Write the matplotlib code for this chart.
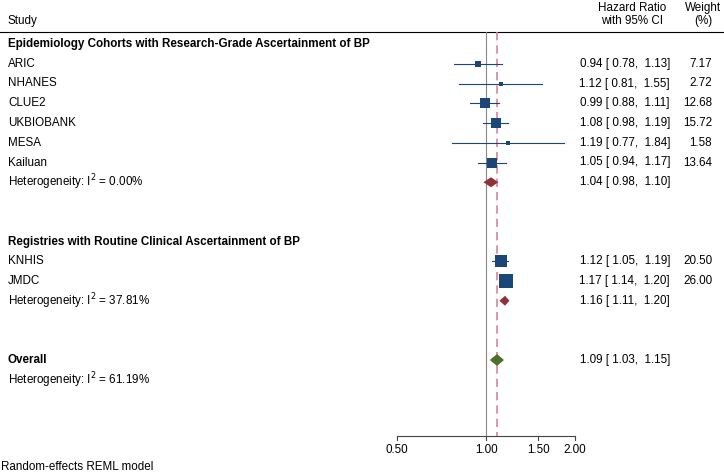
import numpy as np
import matplotlib.pyplot as plt
from matplotlib.patches import Polygon

plt.rcParams['font.family'] = ['Liberation Sans', 'DejaVu Sans']

# study level data
studies = ['ARIC', 'NHANES', 'CLUE2', 'UKBIOBANK', 'MESA', 'Kailuan', 'KNHIS', 'JMDC']
hr = [0.94, 1.12, 0.99, 1.08, 1.19, 1.05, 1.12, 1.17]
lo = [0.78, 0.81, 0.88, 0.98, 0.77, 0.94, 1.05, 1.14]
hi = [1.13, 1.55, 1.11, 1.19, 1.84, 1.17, 1.19, 1.20]
weight = [7.17, 2.72, 12.68, 15.72, 1.58, 13.64, 20.50, 26.00]
study_row = [1, 2, 3, 4, 5, 6, 11, 12]

# pooled estimates
groups = ['Epidemiology Cohorts with Research-Grade Ascertainment of BP',
          'Registries with Routine Clinical Ascertainment of BP']
group_row = [0, 10]
pool_hr = [1.04, 1.16, 1.09]
pool_lo = [0.98, 1.11, 1.03]
pool_hi = [1.10, 1.20, 1.15]
pool_row = [7, 13, 16]
i2 = [0.00, 37.81, 61.19]
i2_row = [7, 13, 17]

ticks = [0.5, 1.0, 1.5, 2.0]

W, H = 724, 475
fig = plt.figure(figsize=(W / 100, H / 100), dpi=100)
ax = fig.add_axes([0, 0, 1, 1])
ax.set_xscale('log')
# 0.50 sits at x=397 px and 2.00 at x=575 px
k = np.log(2 / 0.5) / (575 - 397)
ax.set_xlim(np.exp(np.log(0.5) - 397 * k), np.exp(np.log(2) + (W - 575) * k))
ax.set_ylim(H, 0)


def ry(r):
    return 44 + r * 19.75


def px(xp):
    return xp / W


def fy(yp):
    return 1 - yp / H


fs = 8.4
blue = '#1b4676'
red = '#8e3138'
green = '#4f6f2a'
axis_bottom = 436

# header
fig.text(px(8), fy(21), 'Study', fontsize=fs, va='center')
fig.text(px(632), fy(8), 'Hazard Ratio', fontsize=fs, va='center', ha='center')
fig.text(px(632), fy(21), 'with 95% CI', fontsize=fs, va='center', ha='center')
fig.text(px(703), fy(8), 'Weight', fontsize=fs, va='center', ha='center')
fig.text(px(703), fy(21), '(%)', fontsize=fs, va='center', ha='center')
ax.plot([0, 1], [fy(32)] * 2, transform=ax.transAxes, color='black', lw=0.8)

# reference lines
ax.plot([1, 1], [32, axis_bottom], color='#888888', lw=0.8)
ax.plot([pool_hr[2]] * 2, [32, axis_bottom], color='#d9849a', lw=1.2, ls=(0, (5, 3)))

for g, r in zip(groups, group_row):
    fig.text(px(8), fy(ry(r)), g, fontsize=fs, va='center', fontweight='bold')

for i in range(len(studies)):
    y = ry(study_row[i])
    fig.text(px(8), fy(y), studies[i], fontsize=fs, va='center')
    ax.plot([lo[i], hi[i]], [y, y], color=blue, lw=0.8, zorder=2)
    ax.scatter(hr[i], y, marker='s', s=3.4 * weight[i], color=blue, zorder=3, lw=0)
    fig.text(px(670), fy(y), f'{hr[i]:.2f} [ {lo[i]:.2f},  {hi[i]:.2f}]',
             fontsize=fs, va='center', ha='right')
    fig.text(px(712), fy(y), f'{weight[i]:.2f}', fontsize=fs, va='center', ha='right')

for j in range(3):
    y = ry(pool_row[j])
    col = green if j == 2 else red
    hh = 6 if j == 2 else 5
    poly = Polygon([[pool_lo[j], y], [pool_hr[j], y - hh], [pool_hi[j], y], [pool_hr[j], y + hh]],
                   closed=True, color=col, zorder=3, lw=0)
    ax.add_patch(poly)
    fig.text(px(670), fy(y), f'{pool_hr[j]:.2f} [ {pool_lo[j]:.2f},  {pool_hi[j]:.2f}]',
             fontsize=fs, va='center', ha='right')

for j in range(3):
    y = ry(i2_row[j])
    fig.text(px(8), fy(y), f'Heterogeneity: I$^2$ = {i2[j]:.2f}%', fontsize=fs, va='center')

fig.text(px(8), fy(ry(16)), 'Overall', fontsize=fs, va='center', fontweight='bold')

# x axis
ax.plot([ticks[0], ticks[-1]], [axis_bottom, axis_bottom], color='#444444', lw=0.8)
for t in ticks:
    ax.plot([t, t], [axis_bottom, axis_bottom + 4], color='#444444', lw=0.8)
    ax.text(t, 450, f'{t:.2f}', fontsize=fs, ha='center', va='center')

fig.text(px(1), fy(467), 'Random-effects REML model', fontsize=fs, va='center')

ax.axis('off')
fig.savefig('out.png', dpi=100)
